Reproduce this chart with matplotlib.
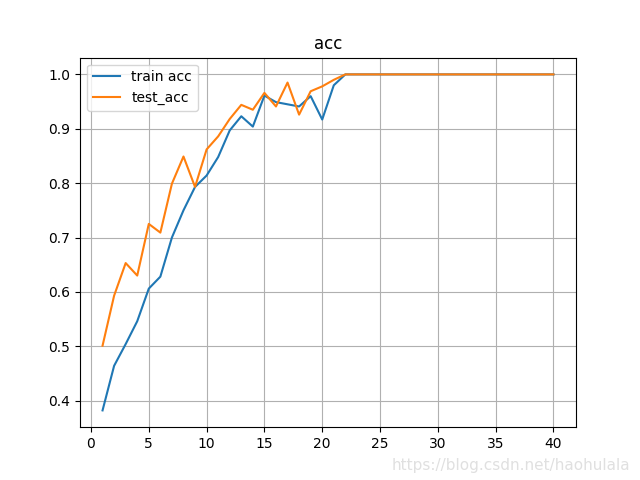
import matplotlib
matplotlib.use('Agg')
import matplotlib.pyplot as plt

epochs = list(range(1, 41))
train_acc = [0.382, 0.464, 0.504, 0.546, 0.606, 0.628, 0.700, 0.750, 0.793, 0.814,
             0.848, 0.897, 0.923, 0.904, 0.961, 0.949, 0.945, 0.941, 0.960, 0.917,
             0.980, 1.0] + [1.0] * 18
test_acc = [0.501, 0.593, 0.653, 0.630, 0.725, 0.709, 0.799, 0.849, 0.793, 0.862,
            0.886, 0.918, 0.944, 0.935, 0.966, 0.941, 0.985, 0.926, 0.969, 0.978,
            0.990, 1.0] + [1.0] * 18

fig = plt.figure(figsize=(6.4, 4.8), dpi=100)
plt.plot(epochs, train_acc, label='train acc')
plt.plot(epochs, test_acc, label='test_acc')
plt.title('acc')
plt.legend(loc='upper left')
plt.grid(True)
fig.text(0.985, 0.03, 'https://blog.csdn.net/haohulala', ha='right', va='center',
         fontsize=11, color='#e0e0e0')
plt.savefig('out.png')
